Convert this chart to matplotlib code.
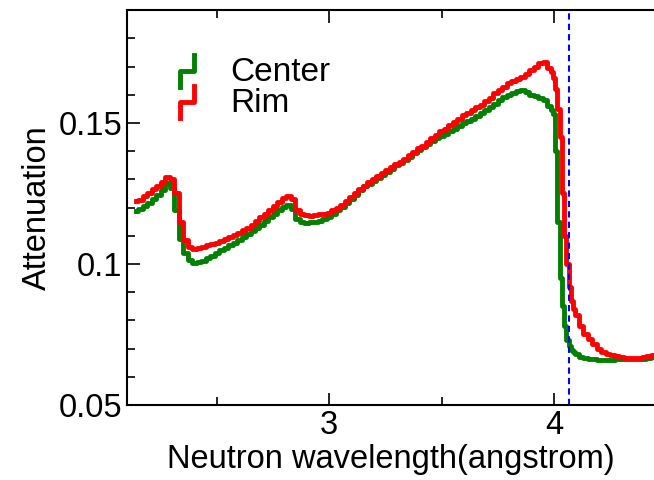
import matplotlib
matplotlib.use("Agg")
import matplotlib.pyplot as plt
from matplotlib.lines import Line2D
from matplotlib.legend_handler import HandlerLine2D
from matplotlib.ticker import MultipleLocator, FormatStrFormatter

plt.rcParams["font.family"] = ["Liberation Sans", "DejaVu Sans"]

# wavelength bins (angstrom)
wavelength = [
    2.14, 2.16, 2.18, 2.20, 2.22, 2.24, 2.26, 2.28, 2.30, 2.32,
    2.34, 2.36, 2.38, 2.40, 2.42, 2.44, 2.46, 2.48, 2.50, 2.52,
    2.54, 2.56, 2.58, 2.60, 2.62, 2.64, 2.66, 2.68, 2.70, 2.72,
    2.74, 2.76, 2.78, 2.80, 2.82, 2.84, 2.86, 2.88, 2.90, 2.92,
    2.94, 2.96, 2.98, 3.00, 3.02, 3.04, 3.06, 3.08, 3.10, 3.12,
    3.14, 3.16, 3.18, 3.20, 3.22, 3.24, 3.26, 3.28, 3.30, 3.32,
    3.34, 3.36, 3.38, 3.40, 3.42, 3.44, 3.46, 3.48, 3.50, 3.52,
    3.54, 3.56, 3.58, 3.60, 3.62, 3.64, 3.66, 3.68, 3.70, 3.72,
    3.74, 3.76, 3.78, 3.80, 3.82, 3.84, 3.86, 3.88, 3.90, 3.92,
    3.94, 3.96, 3.98, 3.99, 4.00, 4.01, 4.02, 4.03, 4.04, 4.05,
    4.06, 4.07, 4.08, 4.09, 4.10, 4.12,
    4.14, 4.16, 4.18, 4.20, 4.22, 4.24, 4.26, 4.28, 4.30, 4.32,
    4.34, 4.36, 4.38, 4.40, 4.42, 4.44,
]
center = [
    0.1188, 0.1195, 0.1205, 0.1218, 0.1232, 0.1245, 0.1262, 0.1286, 0.1270, 0.1190,
    0.1090, 0.1040, 0.1015, 0.1005, 0.1008, 0.1012, 0.1022, 0.1030, 0.1038, 0.1048,
    0.1058, 0.1068, 0.1076, 0.1085, 0.1095, 0.1105, 0.1116, 0.1128, 0.1140, 0.1152,
    0.1165, 0.1176, 0.1190, 0.1203, 0.1210, 0.1195, 0.1158, 0.1148, 0.1146, 0.1148,
    0.1150, 0.1154, 0.1160, 0.1168, 0.1178, 0.1190, 0.1203, 0.1218, 0.1232, 0.1245,
    0.1262, 0.1275, 0.1285, 0.1295, 0.1305, 0.1315, 0.1327, 0.1338, 0.1350, 0.1358,
    0.1370, 0.1380, 0.1393, 0.1405, 0.1413, 0.1425, 0.1435, 0.1445, 0.1455, 0.1462,
    0.1472, 0.1480, 0.1490, 0.1500, 0.1508, 0.1515, 0.1525, 0.1535, 0.1545, 0.1555,
    0.1568, 0.1580, 0.1592, 0.1600, 0.1605, 0.1612, 0.1618, 0.1608, 0.1600, 0.1596,
    0.1588, 0.1580, 0.1560, 0.1545, 0.1530, 0.1400, 0.1150, 0.0950, 0.0850, 0.0780,
    0.0730, 0.0710, 0.0695, 0.0688, 0.0680, 0.0672,
    0.0668, 0.0665, 0.0662, 0.0660, 0.0660, 0.0660, 0.0661, 0.0662, 0.0662, 0.0662,
    0.0663, 0.0663, 0.0664, 0.0665, 0.0667, 0.0670,
]
rim = [
    0.1222, 0.1228, 0.1240, 0.1252, 0.1265, 0.1275, 0.1290, 0.1310, 0.1300, 0.1250,
    0.1150, 0.1085, 0.1062, 0.1055, 0.1058, 0.1062, 0.1068, 0.1072, 0.1076, 0.1082,
    0.1088, 0.1095, 0.1102, 0.1110, 0.1120, 0.1128, 0.1140, 0.1152, 0.1165, 0.1178,
    0.1192, 0.1205, 0.1220, 0.1235, 0.1242, 0.1230, 0.1192, 0.1178, 0.1174, 0.1172,
    0.1174, 0.1176, 0.1178, 0.1182, 0.1190, 0.1200, 0.1210, 0.1222, 0.1237, 0.1250,
    0.1265, 0.1278, 0.1292, 0.1303, 0.1313, 0.1322, 0.1333, 0.1343, 0.1355, 0.1362,
    0.1374, 0.1385, 0.1398, 0.1412, 0.1420, 0.1433, 0.1445, 0.1457, 0.1470, 0.1480,
    0.1492, 0.1505, 0.1515, 0.1527, 0.1535, 0.1545, 0.1555, 0.1565, 0.1578, 0.1590,
    0.1605, 0.1618, 0.1628, 0.1640, 0.1648, 0.1655, 0.1662, 0.1675, 0.1688, 0.1700,
    0.1712, 0.1715, 0.1695, 0.1680, 0.1660, 0.1620, 0.1550, 0.1450, 0.1250, 0.1100,
    0.1000, 0.0920, 0.0870, 0.0840, 0.0820, 0.0780,
    0.0752, 0.0735, 0.0715, 0.0700, 0.0690, 0.0682, 0.0677, 0.0673, 0.0670, 0.0668,
    0.0667, 0.0667, 0.0668, 0.0670, 0.0673, 0.0678,
]
edge_wavelength = 4.065


class StepHandler(HandlerLine2D):
    # legend glyph drawn as a small step
    def create_artists(self, legend, orig_handle, xdescent, ydescent,
                       width, height, fontsize, trans):
        x0, x1 = -xdescent + width * 0.15, -xdescent + width * 0.85
        y0, y1 = -ydescent - height * 0.25, -ydescent + height * 1.15
        ym = (y0 + y1) / 2
        line = Line2D([x0, x0, x1, x1], [y0, ym, ym, y1],
                      color=orig_handle.get_color(),
                      linewidth=orig_handle.get_linewidth(),
                      transform=trans)
        return [line]


fig = plt.figure(figsize=(6.54, 4.8), dpi=100)
ax = fig.add_axes([0.194, 0.156, 0.806, 0.823])

ax.plot(wavelength, center, drawstyle="steps-mid", color="green",
        lw=3.5, label="Center")
ax.plot(wavelength, rim, drawstyle="steps-mid", color="red",
        lw=3.5, label="Rim")
ax.axvline(edge_wavelength, color="blue", ls=(0, (3, 2)), lw=1.5)

ax.set_xlim(2.1, 4.445)
ax.set_ylim(0.05, 0.19)
ax.xaxis.set_major_locator(MultipleLocator(1))
ax.xaxis.set_minor_locator(MultipleLocator(0.5))
ax.yaxis.set_major_locator(MultipleLocator(0.05))
ax.yaxis.set_minor_locator(MultipleLocator(0.01))
ax.yaxis.set_major_formatter(FormatStrFormatter("%g"))
ax.tick_params(which="both", direction="in", top=True, right=False,
               labelsize=23.5, width=1.2)
ax.tick_params(which="major", length=9)
ax.tick_params(which="minor", length=6)
ax.spines["right"].set_visible(False)
for s in ["left", "bottom", "top"]:
    ax.spines[s].set_linewidth(1.5)

ax.set_xlabel("Neutron wavelength(angstrom)", fontsize=23.5, labelpad=2)
ax.set_ylabel("Attenuation", fontsize=23.5)

ax.legend(handler_map={Line2D: StepHandler()}, loc="upper left",
          bbox_to_anchor=(0.095, 0.88), frameon=False, fontsize=24,
          handlelength=0.6, handletextpad=1.0, labelspacing=0.0,
          borderpad=0, borderaxespad=0)

plt.savefig("out.png", dpi=100)
plt.close()
